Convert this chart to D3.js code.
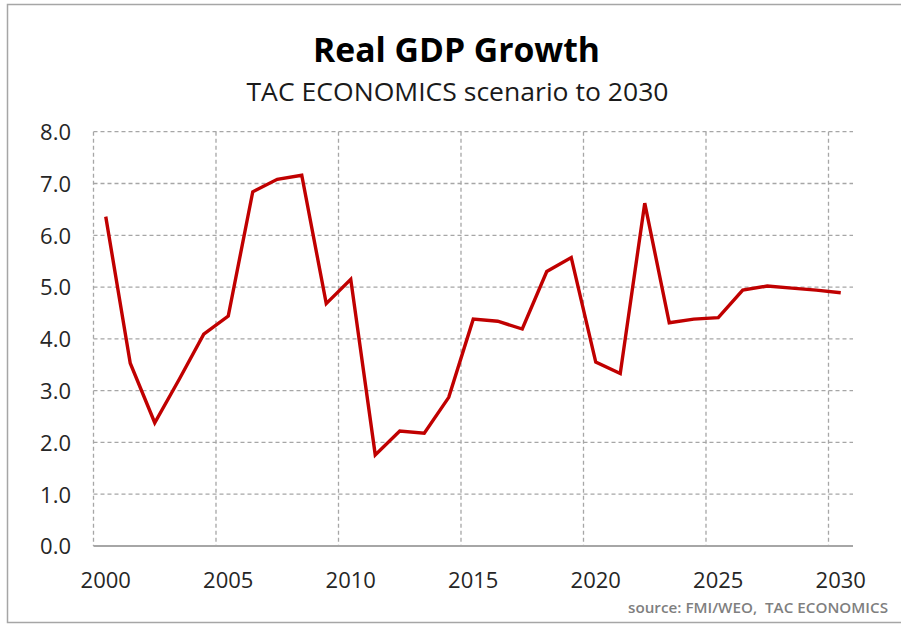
<!DOCTYPE html>
<html>
<head>
<meta charset="utf-8">
<script src="https://cdn.jsdelivr.net/npm/d3@7"></script>
<style>
    html, body { margin: 0; padding: 0; background: #fff; }
    svg { display: block; font-family: 'Open Sans', sans-serif; }
</style>
</head>
<body>
<div id="chart"></div>
<script>
'use strict';

// Data
const years = d3.range(2000, 2031);
const growth = [6.36, 3.53, 2.38, 3.22, 4.09, 4.44, 6.84, 7.08, 7.16, 4.68,
                5.15, 1.76, 2.22, 2.18, 2.87, 4.38, 4.34, 4.19, 5.30, 5.57,
                3.55, 3.33, 6.62, 4.31, 4.38, 4.41, 4.94, 5.02, 4.98, 4.94, 4.89];
const yTicks = [0, 1, 2, 3, 4, 5, 6, 7, 8];
const xTickYears = [2000, 2005, 2010, 2015, 2020, 2025, 2030];

const titleText = 'Real GDP Growth';
const subtitleText = 'TAC ECONOMICS scenario to 2030';
const sourceText = 'source: FMI/WEO,  TAC ECONOMICS';

const lineChart = function() {

    const width = 901;
    const height = 625;
    const plot = { left: 93.5, right: 853, top: 131.7, bottom: 546 };
    const gridColor = '#a6a6a6';
    const font = "'Open Sans', sans-serif";

    const chart = function(selection) {

        const svg = selection.append('svg').attr('width', width).attr('height', height);

        // outer frame of the chart object
        svg.append('rect')
            .attr('x', 7.5).attr('y', 4.5)
            .attr('width', 910).attr('height', 618)
            .attr('fill', '#fff').attr('stroke', '#a6a6a6').attr('stroke-width', 1.5);

        const x = d3.scaleBand().domain(years).range([plot.left, plot.right]).padding(0);
        const y = d3.scaleLinear().domain([0, 8]).range([plot.bottom, plot.top]);
        const xMid = d => x(d) + x.bandwidth() / 2;

        // horizontal gridlines
        svg.append('g').attr('class', 'hgrid')
            .selectAll('line')
            .data(yTicks.filter(d => d > 0))
            .enter().append('line')
            .attr('x1', plot.left).attr('x2', plot.right)
            .attr('y1', d => y(d)).attr('y2', d => y(d))
            .attr('stroke', gridColor).attr('stroke-width', 1.3)
            .attr('stroke-dasharray', '4,3');

        // vertical gridlines at category boundaries
        svg.append('g').attr('class', 'vgrid')
            .selectAll('line')
            .data(xTickYears)
            .enter().append('line')
            .attr('x1', d => x(d)).attr('x2', d => x(d))
            .attr('y1', plot.top).attr('y2', plot.bottom)
            .attr('stroke', gridColor).attr('stroke-width', 1.3)
            .attr('stroke-dasharray', '4,3');

        // y axis labels
        const yAxis = d3.axisLeft(y).tickValues(yTicks).tickFormat(d3.format('.1f')).tickSize(0).tickPadding(0);
        const yG = svg.append('g').attr('transform', 'translate(71,0)').call(yAxis)
            .attr('font-family', font).attr('font-size', 22);
        yG.select('.domain').remove();
        yG.selectAll('text')
            .attr('fill', '#262626')
            .attr('dy', '0.36em');

        // x axis labels, centred on categories
        const xAxis = d3.axisBottom(x).tickValues(xTickYears).tickSize(0).tickPadding(0);
        const xG = svg.append('g').attr('transform', `translate(0, ${plot.bottom})`).call(xAxis)
            .attr('font-family', font).attr('font-size', 22);
        xG.select('.domain').remove();
        xG.selectAll('text')
            .attr('fill', '#262626')
            .attr('y', 42).attr('dy', 0);

        // baseline
        svg.append('line')
            .attr('x1', plot.left).attr('x2', plot.right)
            .attr('y1', y(0)).attr('y2', y(0))
            .attr('stroke', '#a6a6a6').attr('stroke-width', 2.2);

        // the series
        const line = d3.line()
            .x((d, i) => xMid(years[i]))
            .y(d => y(d));

        svg.append('path')
            .datum(growth)
            .attr('d', line)
            .attr('fill', 'none')
            .attr('stroke', '#c00000')
            .attr('stroke-width', 3.4)
            .attr('stroke-linejoin', 'miter');

        // titles
        svg.append('text')
            .attr('x', 456.5).attr('y', 62)
            .attr('text-anchor', 'middle')
            .style('font-size', '34px').style('font-weight', 'bold')
            .attr('fill', '#000')
            .attr('textLength', 287).attr('lengthAdjust', 'spacingAndGlyphs')
            .text(titleText);

        svg.append('text')
            .attr('x', 457.5).attr('y', 101)
            .attr('text-anchor', 'middle')
            .style('font-size', '26px')
            .attr('fill', '#1a1a1a')
            .attr('textLength', 422).attr('lengthAdjust', 'spacingAndGlyphs')
            .text(subtitleText);

        svg.append('text')
            .attr('x', 888).attr('y', 613)
            .attr('text-anchor', 'end')
            .style('font-size', '15px').style('font-weight', 600)
            .style('white-space', 'pre')
            .attr('fill', '#7f7f7f')
            .attr('textLength', 260).attr('lengthAdjust', 'spacingAndGlyphs')
            .text(sourceText);
    };

    return chart;
};

d3.select('#chart').call(lineChart());
</script>
</body>
</html>
